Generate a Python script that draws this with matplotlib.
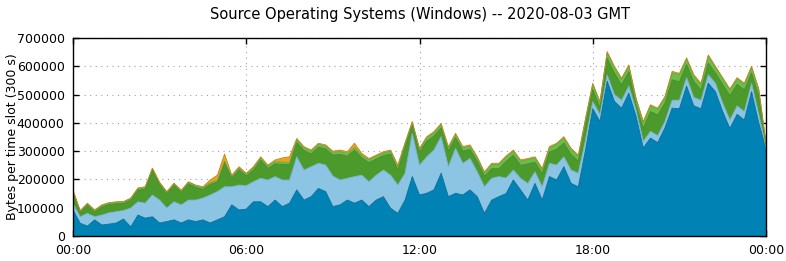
import matplotlib
matplotlib.use('Agg')

import matplotlib.pyplot as plt
import numpy as np

# 15-minute samples, values in kB per 300 s slot
hours = np.arange(97) * 0.25

dark_blue = [92, 45, 35, 57, 39, 42, 46, 60, 32, 74, 63, 68, 46, 51, 57, 46, 57, 51, 57, 46,
             57, 68, 110, 92, 95, 121, 121, 104, 127, 104, 116, 163, 127, 139, 168, 157, 104, 110, 127, 116,
             127, 104, 127, 139, 98, 80, 127, 210, 145, 151, 163, 222, 139, 151, 145, 163, 139, 80, 127, 139,
             150, 198, 163, 127, 186, 127, 210, 198, 245, 186, 174, 304, 450, 405, 547, 476, 452, 505, 423, 311,
             346, 330, 382, 452, 450, 530, 460, 450, 540, 510, 440, 380, 430, 410, 510, 400, 310]
light_blue = [24, 23, 45, 11, 35, 40, 40, 30, 67, 47, 53, 77, 81, 48, 64, 64, 70, 76, 77, 99,
              100, 106, 64, 88, 83, 71, 83, 94, 83, 94, 82, 117, 106, 106, 89, 94, 108, 88, 77, 94,
              88, 88, 88, 94, 117, 100, 95, 153, 105, 129, 141, 129, 106, 159, 112, 111, 88, 94, 77, 71,
              55, 35, 41, 59, 41, 47, 47, 53, 35, 47, 48, 35, 25, 25, 23, 24, 28, 25, 22, 24,
              24, 25, 23, 28, 30, 30, 30, 30, 30, 30, 30, 30, 30, 30, 30, 30, 5]
dark_green = [39, 15, 29, 17, 29, 29, 28, 25, 28, 41, 50, 87, 55, 50, 58, 44, 57, 45, 31, 37,
              34, 85, 30, 54, 34, 41, 64, 41, 45, 55, 54, 50, 69, 45, 57, 57, 74, 91, 78, 93,
              61, 67, 57, 51, 75, 53, 94, 28, 46, 55, 49, 31, 55, 37, 43, 32, 37, 37, 34, 28,
              59, 52, 46, 69, 34, 46, 40, 55, 49, 55, 42, 55, 43, 24, 58, 76, 54, 51, 19, 46,
              70, 73, 64, 72, 65, 46, 56, 36, 41, 36, 66, 86, 76, 76, 36, 66, 8]
light_green = [5, 5, 5, 5, 5, 5, 5, 5, 5, 6, 6, 6, 6, 6, 6, 6, 6, 6, 6, 6,
               6, 6, 6, 6, 6, 8, 8, 8, 8, 8, 8, 10, 10, 10, 10, 10, 10, 10, 10, 10,
               10, 10, 10, 10, 10, 10, 10, 10, 10, 12, 12, 12, 12, 12, 12, 12, 12, 12, 15, 15,
               15, 15, 15, 15, 15, 15, 15, 18, 18, 18, 18, 18, 18, 18, 20, 20, 20, 20, 20, 20,
               20, 20, 20, 25, 25, 20, 20, 20, 25, 20, 20, 20, 20, 20, 20, 20, 5]
orange = [2, 2, 2, 2, 2, 2, 2, 2, 2, 2, 2, 2, 2, 2, 2, 2, 2, 2, 3, 10,
          18, 25, 5, 5, 4, 4, 4, 4, 6, 15, 20, 5, 4, 4, 4, 4, 4, 5, 6, 15,
          6, 5, 4, 4, 4, 8, 4, 4, 4, 4, 4, 4, 4, 4, 4, 4, 4, 4, 4, 4,
          4, 4, 4, 4, 4, 4, 4, 4, 4, 4, 4, 4, 4, 4, 4, 4, 4, 4, 4, 4,
          4, 4, 4, 5, 5, 4, 4, 4, 4, 4, 4, 4, 4, 4, 4, 4, 2]

layers = [np.array(v) * 1000 for v in (dark_blue, light_blue, dark_green, light_green, orange)]
fills = ['#0083b4', '#8cc4e3', '#4c9a2c', '#6abf4a', '#eea21c']
edges = ['#006894', '#78b0d0', '#40862a', '#5aa83e', '#c8861a']

fig = plt.figure(figsize=(7.86, 2.61), dpi=100)
ax = fig.add_axes([73 / 786, 25 / 261, 693 / 786, 198 / 261])

base = np.zeros(len(hours))
for vals, fc, ec in zip(layers, fills, edges):
    top = base + vals
    ax.fill_between(hours, base, top, facecolor=fc, edgecolor='none', zorder=2)
    ax.plot(hours, top, color=ec, lw=0.6, zorder=3)
    base = top

ax.set_xlim(0, 24)
ax.set_ylim(0, 700000)
ax.set_xticks([0, 6, 12, 18, 24])
ax.set_xticklabels(['00:00', '06:00', '12:00', '18:00', '00:00'])
ax.set_yticks(np.arange(0, 700001, 100000))
ax.set_yticklabels([str(v) for v in range(0, 700001, 100000)])
ax.tick_params(direction='in', length=4, width=1, top=True, right=True, labelsize=9, pad=6)
ax.grid(True, color='#a0a0a0', linestyle=(0, (1, 4)), lw=0.8, zorder=1)
for s in ax.spines.values():
    s.set_linewidth(1)
    s.set_zorder(5)

ax.set_ylabel('Bytes per time slot (300 s)', fontsize=9)
ax.yaxis.set_label_coords(-0.078, 0.5)
ax.set_title('Source Operating Systems (Windows) -- 2020-08-03 GMT', fontsize=10.5, pad=14)

plt.savefig('out.png', dpi=100)
plt.close(fig)
